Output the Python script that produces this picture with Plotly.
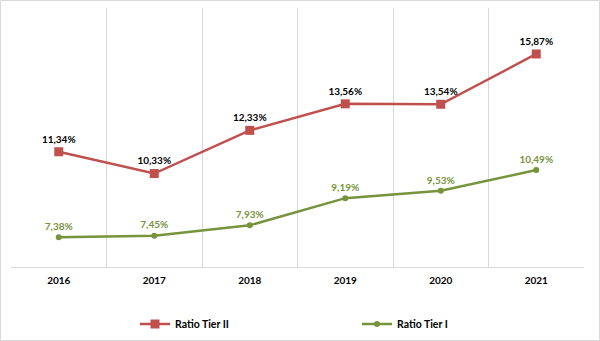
import plotly.graph_objects as go

years = ["2016", "2017", "2018", "2019", "2020", "2021"]
tier2 = [11.34, 10.33, 12.33, 13.56, 13.54, 15.87]
tier1 = [7.38, 7.45, 7.93, 9.19, 9.53, 10.49]

def fmt(v):
    return f"{v:.2f}".replace(".", ",") + "%"

FONT = "Lato"
red = "#C0504D"
green = "#77933C"

fig = go.Figure()
fig.add_trace(go.Scatter(
    x=years, y=tier2, name="Ratio Tier II", mode="lines+markers+text",
    line=dict(color=red, width=2.5),
    marker=dict(symbol="square", size=9, color=red),
    text=[fmt(v) for v in tier2], textposition="top center",
    textfont=dict(family=FONT, size=10, color="#000000", weight="bold"),
))
fig.add_trace(go.Scatter(
    x=years, y=tier1, name="Ratio Tier I", mode="lines+markers+text",
    line=dict(color=green, width=2.5),
    marker=dict(symbol="circle", size=6, color=green),
    text=[fmt(v) for v in tier1], textposition="top center",
    textfont=dict(family=FONT, size=10, color=green, weight="bold"),
))

fig.update_layout(
    width=600, height=341,
    margin=dict(l=11, r=16, t=8, b=74, autoexpand=False),
    paper_bgcolor="white", plot_bgcolor="white",
    font=dict(family=FONT, size=10, color="#000000"),
    showlegend=True,
    legend=dict(orientation="h", x=(135 - 11) / 573, xanchor="left",
                y=-57 / 259, yanchor="middle",
                font=dict(family=FONT, size=10.5, color="#000000", weight="bold"),
                entrywidth=177, traceorder="normal"),
    xaxis=dict(type="category", tickson="boundaries", showgrid=True, gridcolor="#D9D9D9",
               gridwidth=1, showline=True, linecolor="#D9D9D9", ticks="",
               ticklabelstandoff=4, automargin=False,
               tickfont=dict(family=FONT, size=10, color="#000000", weight="bold"),
               range=[-0.5, 5.5], fixedrange=True),
    yaxis=dict(range=[6, 18], showgrid=False, showticklabels=False, zeroline=False,
               showline=False, fixedrange=True, automargin=False),
    shapes=[dict(type="rect", xref="paper", yref="paper",
                 x0=(0.5 - 11) / 573, x1=(599.5 - 11) / 573,
                 y0=-(340.5 - 267) / 259, y1=(267 - 0.5) / 259,
                 line=dict(color="#D9D9D9", width=1), layer="below")],
)

fig.write_html("out.html")
